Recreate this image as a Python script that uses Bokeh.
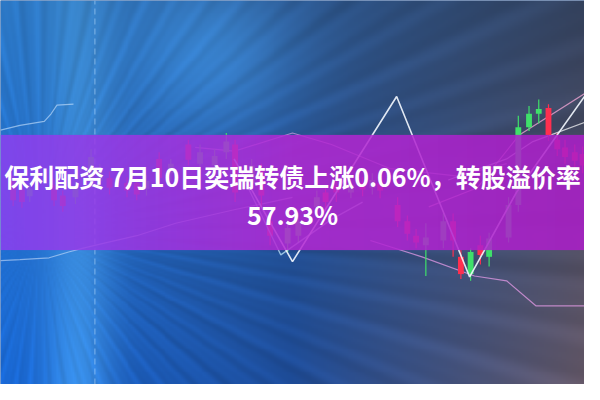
import numpy as np
from bokeh.plotting import figure
from bokeh.models import Range1d
from bokeh.embed import file_html
from bokeh.resources import INLINE
from bokeh.core.properties import value

title_line1 = "保利配资 7月10日奕瑞转债上涨0.06%，转股溢价率"
title_line2 = "57.93%"

candle_x    = [13, 22, 30, 55, 64, 77, 93, 102, 112, 130, 140, 150, 163, 175, 193, 205, 220,
               232, 241, 258, 268, 277, 295, 306, 325, 334, 345, 360, 372, 382, 390, 408,
               418, 427, 437, 455, 465, 473, 483, 493, 502, 522, 532, 543, 553, 563, 572,
               580, 590, 598]
body_top    = [188, 197, 196, 192, 203, 195, 163, 177, 185, 190, 190, 188, 165, 170, 150, 158, 162,
               147, 150, 172, 177, 230, 237, 230, 205, 200, 193, 192, 190, 187, 190, 213,
               230, 245, 247, 230, 230, 267, 262, 255, 248, 213, 132, 118, 113, 112, 145,
               153, 158, 160]
body_bottom = [208, 210, 204, 208, 214, 205, 187, 188, 195, 198, 202, 196, 185, 180, 166, 170, 172,
               158, 200, 190, 203, 245, 253, 245, 215, 210, 200, 200, 197, 195, 198, 230,
               243, 252, 255, 250, 250, 285, 285, 265, 267, 247, 213, 132, 118, 140, 155,
               163, 167, 172]
wick_top    = [182, 192, 190, 186, 198, 188, 155, 170, 178, 184, 185, 182, 158, 165, 145, 150, 155,
               138, 145, 165, 170, 222, 228, 222, 198, 193, 188, 186, 184, 180, 185, 205,
               224, 238, 232, 222, 222, 260, 258, 245, 242, 205, 120, 110, 103, 108, 138,
               145, 150, 152]
wick_bottom = [214, 216, 210, 214, 220, 212, 195, 195, 202, 205, 208, 203, 192, 188, 172, 178, 180,
               165, 210, 196, 215, 255, 262, 252, 222, 218, 210, 206, 204, 202, 206, 236,
               250, 258, 287, 258, 267, 290, 292, 275, 277, 252, 220, 136, 128, 146, 162,
               170, 175, 180]
candle_kind = ["r", "r", "g", "r", "r", "g", "g", "g", "r", "r", "r", "g", "r", "g", "r", "g", "g",
               "g", "r", "g", "r", "r", "g", "g", "g", "r", "r", "g", "r", "g", "r", "r",
               "r", "r", "g", "g", "r", "r", "g", "r", "g", "g", "g", "g", "g", "r", "r",
               "r", "r", "r"]

zigzag_x = [240, 300, 407, 482, 530, 600]
zigzag_y = [165, 272, 100, 288, 200, 100]

zig2_x = [252, 288, 340, 372]
zig2_y = [190, 265, 228, 210]

maA_x = [0, 20, 45, 52, 58, 75]
maA_y = [135, 130, 126, 118, 109, 108]

maB_x = [0, 20, 50, 70, 85, 110, 140, 180, 240, 300]
maB_y = [271, 270, 268, 262, 258, 252, 245, 232, 218, 205]

maC_x = [380, 433, 487, 520, 550, 600]
maC_y = [250, 267, 287, 292, 318, 318]

maD_x = [440, 490, 533, 600]
maD_y = [215, 195, 140, 97]

maE_x = [460, 520, 547, 600]
maE_y = [187, 165, 147, 127]

maF_x = [200, 240, 300, 340, 400, 470, 520]
maF_y = [153, 157, 138, 150, 175, 183, 170]

dash_x = 97

band_top, band_bottom = 140, 260
title_y1, title_y2 = 183, 222

CW, CH = 600, 400


def up(rows):
    return [CH - r for r in rows]


# ---------------- figure ------------------------------------------------------
p = figure(width=584, height=384, x_range=Range1d(0, CW), y_range=Range1d(0, CH),
           output_backend="svg", toolbar_location=None, min_border=0)
p.axis.visible = False
p.grid.visible = False
p.outline_line_color = None
p.background_fill_color = "#1e4f96"
p.border_fill_color = "#ffffff"

# background gradient with rays
R, C = 200, 300
yy, xx = np.mgrid[0:R, 0:C]
X = xx / (C - 1) * CW
Y = yy / (R - 1) * CH          # from top
tx = X / CW
ty = Y / CH


def row_color(cl, cm, cr, t):
    cl, cm, cr = (np.array(c, float) for c in (cl, cm, cr))
    t = t[..., None]
    left = cl + (cm - cl) * np.clip(t / 0.5, 0, 1)
    right = cm + (cr - cm) * np.clip((t - 0.5) / 0.5, 0, 1)
    return np.where(t < 0.5, left, right)


top = row_color((45, 122, 200), (42, 84, 140), (52, 66, 94), tx)
bot = row_color((25, 105, 215), (30, 76, 152), (100, 88, 104), tx)
rgb = top + (bot - top) * ty[..., None]

ang = np.arctan2(Y - 240, X - 40)
dist = np.hypot(Y - 240, X - 40)
rays = (np.sin(ang * 70) * 0.5 + np.sin(ang * 131 + 1.3) * 0.3 + np.sin(ang * 43 + 0.7) * 0.2)
rays = rays * np.clip(dist / 150, 0, 1)
rgb = rgb * (1 + 0.08 * rays[..., None])
glow = np.exp(-((X - 80) / 35) ** 2) * (0.4 + 0.6 * ty)
rgb = rgb + glow[..., None] * np.array([30, 45, 35])
glow2 = np.exp(-((X - 220) / 90) ** 2 - ((Y - 60) / 90) ** 2)
rgb = rgb + glow2[..., None] * np.array([15, 35, 45])
rgb = np.clip(rgb, 0, 255).astype(np.uint32)
img = (255 << 24) | (rgb[..., 2] << 16) | (rgb[..., 1] << 8) | rgb[..., 0]
img = np.flipud(img).astype(np.uint32)
p.image_rgba(image=[img], x=0, y=0, dw=CW, dh=CH)

# dashed vertical line
p.segment(x0=[dash_x], y0=[0], x1=[dash_x], y1=[CH], line_color="#bfe0ff",
          line_alpha=0.55, line_width=1, line_dash="6 4")

# moving-average style lines
for lx, ly, col, a in [(maA_x, maA_y, "#cfe6ff", 0.6), (maB_x, maB_y, "#d8e8ff", 0.55),
                       (maC_x, maC_y, "#f0a0f0", 0.7), (maD_x, maD_y, "#f7a8d8", 0.75),
                       (maE_x, maE_y, "#ffffff", 0.7), (maF_x, maF_y, "#f0b0f0", 0.6)]:
    p.line(lx, up(ly), line_color=col, line_alpha=a, line_width=1.2)

# candles
cols = ["#ff2f4f" if k == "r" else "#3fe06a" for k in candle_kind]
p.segment(x0=candle_x, y0=up(wick_top), x1=candle_x, y1=up(wick_bottom),
          line_color=cols, line_width=1.2)
p.vbar(x=candle_x, width=6, top=up(body_top), bottom=up(body_bottom),
       fill_color=cols, line_color=None)

# zigzag lines
p.line(zig2_x, up(zig2_y), line_color="#c8f0ff", line_alpha=0.7, line_width=1.3)
p.line(zigzag_x, up(zigzag_y), line_color="#f4f8ff", line_alpha=0.9, line_width=1.6)

# purple band overlay
bx = np.linspace(0, 1, 300)
bandc = row_color((140, 64, 240), (180, 40, 212), (172, 30, 202), bx)
bandc = np.clip(bandc, 0, 255).astype(np.uint32)
alpha = np.uint32(int(0.86 * 255))
band = (alpha << 24) | (bandc[..., 2] << 16) | (bandc[..., 1] << 8) | bandc[..., 0]
band = band.reshape(1, -1).astype(np.uint32)
p.image_rgba(image=[band], x=0, y=CH - band_bottom, dw=CW, dh=band_bottom - band_top)

# title
p.text(x=[CW / 2], y=up([title_y1]), text=[title_line1], text_align="center",
       text_baseline="middle", text_color="#ffffff", text_font=value("Noto Sans CJK SC"),
       text_font_style="bold", text_font_size="25px")
p.text(x=[CW / 2], y=up([title_y2]), text=[title_line2], text_align="center",
       text_baseline="middle", text_color="#ffffff", text_font=value("Noto Sans CJK SC"),
       text_font_style="bold", text_font_size="25px")

open("out.html", "w").write(file_html(p, INLINE))
